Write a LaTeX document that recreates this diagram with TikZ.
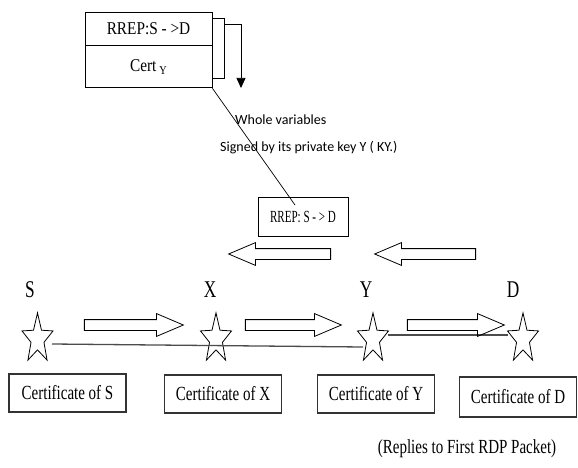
\documentclass[tikz,border=0pt]{standalone}
\usepackage{fontspec}
\setmainfont{Liberation Serif}
\newfontfamily\condserif[FakeStretch=0.75]{Liberation Serif}
\newfontfamily\nameserif[FakeStretch=0.72]{Liberation Serif}
\newfontfamily\fieldserif[FakeStretch=0.85]{Liberation Serif}
\newfontfamily\packetserif[FakeStretch=0.65]{Liberation Serif}
\newfontfamily\notesans{Carlito}
\usetikzlibrary{shapes.geometric,shapes.arrows,arrows.meta}

\tikzset{
  fieldbox/.style={draw=black, line width=0.9pt, inner sep=0pt,
    font=\fieldserif\fontsize{18}{20}\selectfont},
  packetbox/.style={draw=black, line width=0.9pt, inner sep=0pt,
    minimum width=90pt, minimum height=39pt,
    font=\packetserif\fontsize{17}{19}\selectfont},
  certbox/.style={draw=black!80, line width=1.1pt, inner sep=0pt,
    minimum width=117pt, minimum height=38pt,
    font=\condserif\fontsize{20}{22}\selectfont},
  nodename/.style={inner sep=0pt, font=\nameserif\fontsize{24}{26}\selectfont},
  notetext/.style={inner sep=0pt, anchor=west, font=\notesans\fontsize{14}{16}\selectfont},
  replytext/.style={inner sep=0pt, font=\condserif\fontsize{20}{22}\selectfont},
  hollowarrow/.style={single arrow, draw=black, line width=0.8pt,
    inner xsep=0pt, inner ysep=5pt, minimum width=0pt,
    single arrow head extend=6pt, single arrow tip angle=46},
  starnode/.style={star, star points=5, star point ratio=2.4, draw=black,
    line width=0.8pt, minimum size=32.6pt, inner sep=0pt, transform shape},
  link/.style={draw=black!70, line width=1.3pt},
  thinline/.style={draw=black, line width=0.7pt},
}

\begin{document}
\begin{tikzpicture}[x=1pt,y=-1pt]
  \useasboundingbox (0,0) rectangle (578,468);
  \fill[white] (0,0) rectangle (578,468);

  % packet fields: RREP header and certificate of Y
  \node[fieldbox, minimum width=127pt, minimum height=33pt] (rrepf) at (148.5,28.5) {RREP:S - >D};
  \node[fieldbox, minimum width=127pt, minimum height=42pt, anchor=north] (certf) at (rrepf.south)
    {Cert\,\raisebox{-3pt}{\fontsize{12}{12}\selectfont Y}};

  % bracket grouping the signed fields, and the signing arrow
  \draw[thinline] ([yshift=-6.5pt]rrepf.north east) -- ++(12,0) |- ([yshift=10pt]certf.south east);
  \coordinate (signtip) at (241,88);
  \draw[thinline, -{Triangle[width=9pt,length=10pt]}]
    ([xshift=12pt,yshift=-12.5pt]rrepf.north east) -| (signtip);

  % note on the signature
  \node[notetext] (note1) at (235,120) {Whole variables};
  \node[notetext] (note2) at (220,148) {Signed by its private key Y ( KY.)};

  % RREP packet on the reverse path
  \node[packetbox] (rrepmid) at (303,216.5) {RREP: S - > D};
  \coordinate (callout) at (295,205);
  \draw[thinline] (certf.south east) -- (callout);

  % reverse direction arrows
  \node[hollowarrow, shape border rotate=180, minimum height=102pt] (back1) at (286,254) {};
  \node[hollowarrow, shape border rotate=180, minimum height=101pt] (back2) at (431.5,254) {};

  % node names
  \node[nodename] (lS) at (30,290) {S};
  \node[nodename] (lX) at (210,290) {X};
  \node[nodename] (lY) at (366,290) {Y};
  \node[nodename] (lD) at (513,290) {D};

  % nodes drawn as stars
  \begin{scope}[shift={(37.5,339)}, yscale=1.6] \node[starnode] (sS) at (0,0) {}; \end{scope}
  \begin{scope}[shift={(216,339)}, yscale=1.6] \node[starnode] (sX) at (0,0) {}; \end{scope}
  \begin{scope}[shift={(373,339)}, yscale=1.6] \node[starnode] (sY) at (0,0) {}; \end{scope}
  \begin{scope}[shift={(523,339)}, yscale=1.6] \node[starnode] (sD) at (0,0) {}; \end{scope}

  % links between the nodes
  \draw[link] ([xshift=14.5pt,yshift=-5pt]sS.center) -- ([xshift=-10pt,yshift=-8pt]sY.center);
  \draw[link] ([xshift=15pt,yshift=4pt]sY.center) -- ([xshift=-15pt,yshift=4pt]sD.center);

  % forward direction arrows
  \node[hollowarrow, minimum height=99pt] (fwd1) at (127.5,325) {};
  \node[hollowarrow, minimum height=96pt] (fwd2) at (287,325) {};
  \node[hollowarrow, minimum height=97pt] (fwd3) at (449.5,325) {};

  % certificates held by each node
  \node[certbox] (cS) at (67.5,393) {Certificate of S};
  \node[certbox] (cX) at (223,394) {Certificate of X};
  \node[certbox] (cY) at (376,394) {Certificate of Y};
  \node[certbox, minimum height=40pt] (cD) at (518,397) {Certificate of D};

  \node[replytext] (reply) at (467,449) {(Replies to First RDP Packet)};
\end{tikzpicture}
\end{document}
